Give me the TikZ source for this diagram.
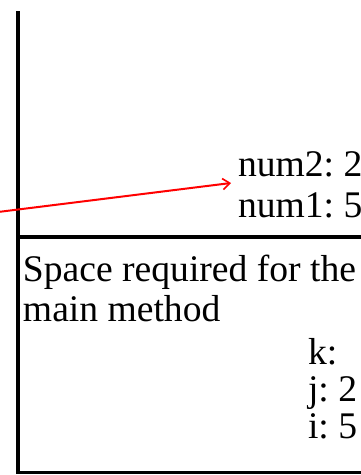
\documentclass[tikz,border=0pt]{standalone}
\usepackage{fontspec}
\setmainfont{Liberation Serif}
\usetikzlibrary{arrows.meta}
\begin{document}
\frenchspacing
\begin{tikzpicture}[x=1pt,y=-1pt,
  lbl/.style={inner sep=0pt,outer sep=0pt,anchor=base west,font=\fontsize{37.6}{40}\selectfont\frenchspacing},
  wall/.style={line width=3.2pt},
  ptr/.style={red,line width=2pt,-{Straight Barb[length=7pt,width=11pt,line width=1.6pt]}}]
\useasboundingbox (0,0) rectangle (361,475);
% stack frame lines
\coordinate (vtop) at (18,11);
\coordinate (vbot) at (18,474);
\draw[wall] (vtop) -- (vbot);
\coordinate (midL) at (18,237);
\coordinate (midR) at (361,237);
\draw[wall] (midL) -- (midR);
\coordinate (botL) at (18,472.5);
\coordinate (botR) at (361,472.5);
\draw[wall] (botL) -- (botR);
% upper frame
\node[lbl] (num2) at (238,176) {num2: 2};
\node[lbl] (num1) at (238,217) {num1: 5};
% lower frame
\node[lbl] (sp1) at (23,281) {Space required for the};
\node[lbl] (sp2) at (23,321) {main method};
\node[lbl] (k) at (308,364) {k:};
\node[lbl] (j) at (308,401) {j: 2};
\node[lbl] (i) at (308,438) {i: 5};
% pointer
\coordinate (src) at (-2,212);
\coordinate (dst) at (231,183);
\draw[ptr] (src) -- (dst);
\end{tikzpicture}
\end{document}
